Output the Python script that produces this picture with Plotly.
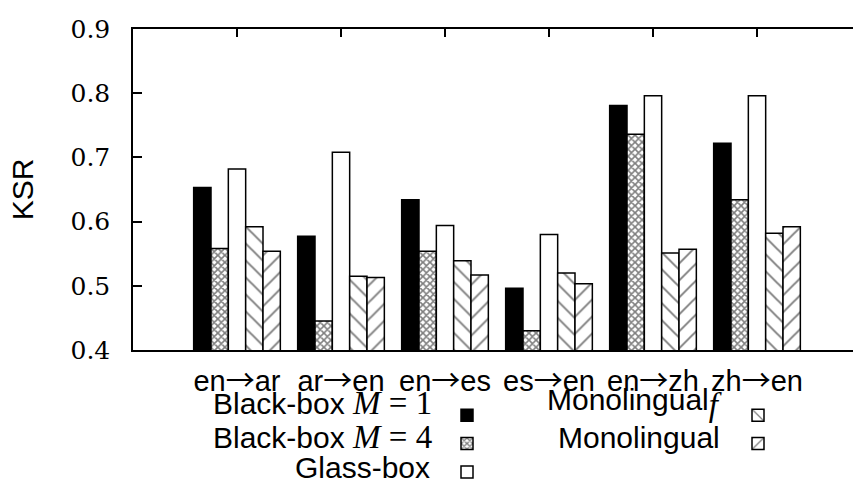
import plotly.graph_objects as go

# ---- data ----
categories = ["en→ar", "ar→en", "en→es", "es→en", "en→zh", "zh→en"]
black_box_m1 = [0.653, 0.577, 0.634, 0.496, 0.781, 0.722]
black_box_m4 = [0.558, 0.445, 0.554, 0.430, 0.736, 0.634]
glass_box = [0.682, 0.708, 0.594, 0.580, 0.796, 0.796]
monolingual_f = [0.592, 0.515, 0.539, 0.520, 0.551, 0.582]
monolingual = [0.554, 0.513, 0.517, 0.503, 0.557, 0.592]
y_ticks = [0.4, 0.5, 0.6, 0.7, 0.8, 0.9]

series_names = ["Black-box M = 1", "Black-box M = 4", "Glass-box",
                "Monolingual_f", "Monolingual"]
SERIF = 'font-family:Liberation Serif;font-size:33px'
series_labels_html = [
    f'Black-box <span style="{SERIF}"><i>M</i> = 1</span>',
    f'Black-box <span style="{SERIF}"><i>M</i> = 4</span>',
    'Glass-box',
    f'Monolingual<sub><span style="{SERIF}"><i>f</i></span></sub>',
    'Monolingual',
]

# tick texts: same categories, arrow drawn with a thin, wide glyph
tick_text = [c.replace("→", '<span style="font-family:Noto Sans CJK JP">→</span>')
             for c in categories]

# ---- geometry (pixels of the 853x482 canvas) ----
W, H = 853, 482
ML, MT, MB, MR = 133, 29, 132, 0
PW, PH = W - ML - MR, H - MT - MB


def px_x(p):
    return (p - ML) / PW


def px_y(p):
    return (H - MB - p) / PH


LINE = dict(color="black", width=1.5)
styles = [
    dict(color="black", line=LINE),
    dict(color="white", line=LINE,
         pattern=dict(shape="x", fgcolor="black", bgcolor="white", size=5, solidity=0.55)),
    dict(color="white", line=LINE),
    dict(color="white", line=LINE,
         pattern=dict(shape="\\", fgcolor="black", bgcolor="white", size=12, solidity=0.16)),
    dict(color="white", line=LINE,
         pattern=dict(shape="/", fgcolor="black", bgcolor="white", size=12, solidity=0.16)),
]
values = [black_box_m1, black_box_m4, glass_box, monolingual_f, monolingual]
legend_ids = ["legend", "legend", "legend", "legend2", "legend2"]

fig = go.Figure()
for name, vals, st, lg in zip(series_names, values, styles, legend_ids):
    fig.add_trace(go.Bar(x=categories, y=vals, name=name, marker=st,
                         legend=lg, showlegend=True, hoverinfo="skip"))

# legend entries show only swatches; the labels are drawn right-aligned to their left
fig.for_each_trace(lambda t: t.update(name=" "))

sans = "Liberation Sans, Arial, Helvetica, sans-serif"
fig.update_layout(
    width=W, height=H,
    margin=dict(l=ML, r=MR, t=MT, b=MB, pad=0, autoexpand=False),
    paper_bgcolor="white", plot_bgcolor="white",
    barmode="group", bargap=1 / 6, bargroupgap=0,
    font=dict(family=sans, color="black", size=28),
    xaxis=dict(
        type="category", range=[-1, 5.923],
        tickvals=categories, ticktext=tick_text,
        showline=True, linecolor="black", linewidth=1.5, mirror="ticks",
        ticks="inside", ticklen=8, tickwidth=1.5, tickcolor="black",
        tickangle=0, tickfont=dict(family=sans, size=29),
        ticklabelstandoff=4, showgrid=False, zeroline=False, layer="below traces",
        fixedrange=True, automargin=False,
    ),
    yaxis=dict(
        range=[0.4, 0.9], tickvals=y_ticks, tickformat=".1f",
        showline=True, linecolor="black", linewidth=1.5,
        ticks="inside", ticklen=9, tickwidth=1.5, tickcolor="black",
        tickfont=dict(family="DejaVu Serif", size=25),
        ticklabelstandoff=16, showgrid=False, zeroline=False,
        title=dict(text="KSR", font=dict(family=sans, size=30), standoff=28),
        fixedrange=True, automargin=False,
    ),
    legend=dict(x=px_x(447), y=px_y(396), xanchor="left", yanchor="top",
                bgcolor="rgba(0,0,0,0)", font=dict(size=19.5), traceorder="normal"),
    legend2=dict(x=px_x(738), y=px_y(396), xanchor="left", yanchor="top",
                 bgcolor="rgba(0,0,0,0)", font=dict(size=19.5), traceorder="normal"),
    showlegend=True,
)

label_pos = [(434, 403), (434, 437), (432, 467), (724, 403), (722, 437)]
for txt, (px, py) in zip(series_labels_html, label_pos):
    fig.add_annotation(text=txt, x=px_x(px), y=px_y(py), xref="paper", yref="paper",
                       xanchor="right", yanchor="middle", showarrow=False,
                       font=dict(family=sans, size=30, color="black"))

fig.write_html("out.html")
